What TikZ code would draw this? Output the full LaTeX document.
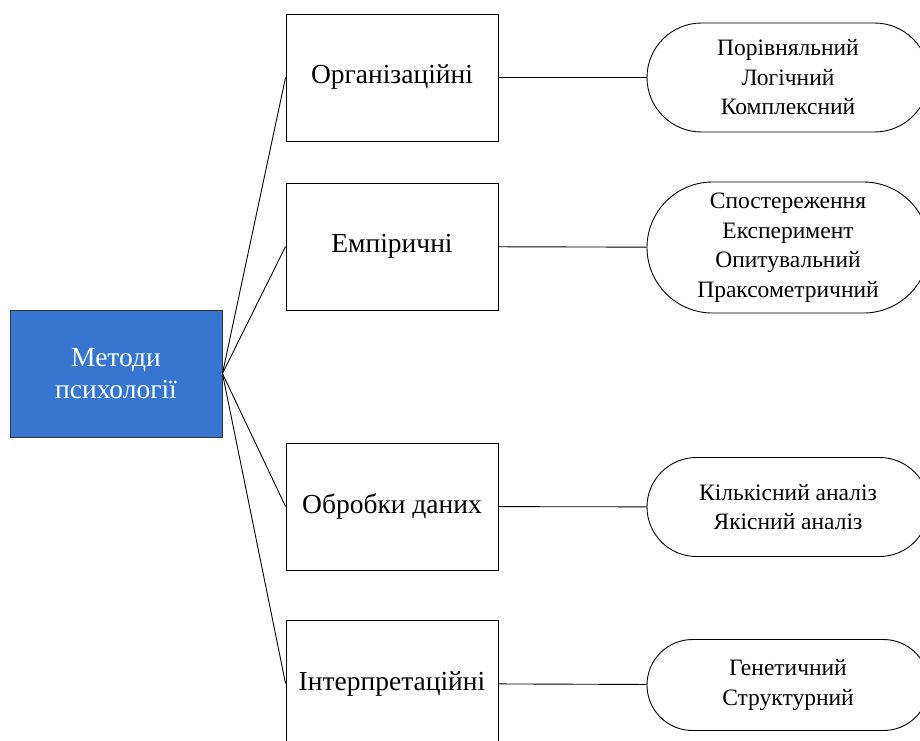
\documentclass[tikz,border=0pt]{standalone}
\usepackage{fontspec}
\setmainfont{Liberation Serif}
\usetikzlibrary{shapes.misc}
\definecolor{mainblue}{RGB}{54,118,208}

\begin{document}
\begin{tikzpicture}[x=1pt,y=-1pt,line width=0.9pt]

        \clip (0,0) rectangle (920,740);

        \begin{scope}[every node/.style={draw,minimum width=212,minimum height=127,inner sep=0,align=center,font=\fontsize{27.5}{32}\selectfont}]
          \node[fill=mainblue,draw=black!80,text=white] (m) at (116,373.5) {Методи\\психології};
          \node (1) at (392,77.5)  {Організаційні};
          \node (2) at (392,246.5) {Емпіричні};
          \node (3) at (392,506.5) {Обробки даних};
          \node (4) at (392,683.5) {Інтерпретаційні};
        \end{scope}

        \begin{scope}[every node/.style={draw,rounded rectangle,minimum width=282,inner sep=0,align=center,font=\fontsize{23.5}{29.5}\selectfont}]
          \node[minimum height=109] (1a) at (788,77.5)  {Порівняльний\\Логічний\\Комплексний};
          \node[minimum height=131] (2a) at (788,247.5) {Спостереження\\Експеримент\\Опитувальний\\Праксометричний};
          \node[minimum height=99]  (3a) at (788,507)   {Кількісний аналіз\\Якісний аналіз};
          \node[minimum height=91]  (4a) at (788,685)   {Генетичний\\Структурний};
        \end{scope}

        \begin{scope}[every edge/.style={draw}]
          \path (m.east) edge (1.west);
          \path (m.east) edge (2.west);
          \path (m.east) edge (3.west);
          \path (m.east) edge (4.west);
          \path (1) edge (1a);
          \path (2) edge (2a);
          \path (3) edge (3a);
          \path (4) edge (4a);
        \end{scope}

      \end{tikzpicture}
\end{document}
